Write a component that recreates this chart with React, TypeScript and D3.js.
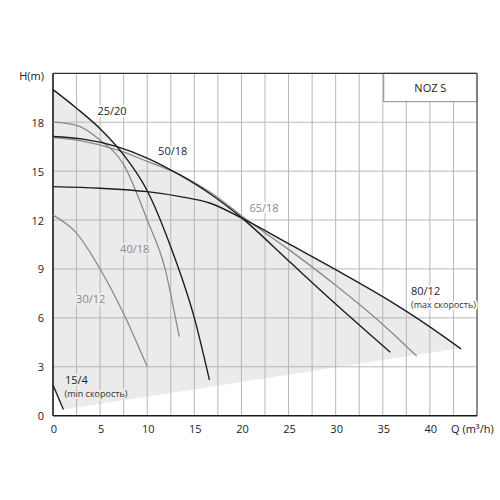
import React from "react";
import * as d3 from "d3";

// Axis ticks
const xTicks = [0, 5, 10, 15, 20, 25, 30, 35, 40];
const yTicks = [0, 3, 6, 9, 12, 15, 18];
const xGrid = [2.5, 5, 7.5, 10, 12.5, 15, 17.5, 20, 22.5, 25, 27.5, 30, 32.5, 35, 37.5, 40, 42.5];
const yGrid = [3, 6, 9, 12, 15, 18];

// Pump curves: flow Q (m3/h) and head H (m)
const q2520 = [0, 2.5, 5, 7.5, 10, 12.5, 15, 16.6];
const h2520 = [20.0, 18.86, 17.6, 16.0, 13.8, 10.35, 6.0, 2.2];

const q4018 = [0, 2.5, 5, 7.5, 10, 11.9, 13, 13.4];
const h4018 = [18.0, 17.8, 16.9, 15.4, 12.0, 9.0, 6.0, 4.85];

const q3012 = [0, 2.5, 5, 7.5, 10];
const h3012 = [12.3, 11.2, 9.0, 6.25, 3.0];

const q5018 = [0, 3.2, 6.8, 10, 13.5, 16.7, 20.1, 25, 30, 35.8];
const h5018 = [17.12, 16.96, 16.5, 15.8, 14.75, 13.6, 12.1, 9.5, 6.85, 3.89];

const q6518 = [0, 3, 6.8, 10, 13.5, 16.7, 20.6, 25, 30, 35, 38.6];
const h6518 = [17.05, 16.85, 16.3, 15.6, 14.78, 13.7, 12.0, 10.2, 8.0, 5.6, 3.66];

const q8012 = [0, 5, 10, 13.5, 16.7, 20.1, 25, 30, 35, 40, 43.3];
const h8012 = [14.05, 13.95, 13.74, 13.44, 13.03, 12.1, 10.55, 8.96, 7.3, 5.45, 4.1];

const q154 = [0, 1.1];
const h154 = [1.88, 0.38];

// Lower limit of the working range (shaded region)
const qLow = [0, 1.1, 43.3, 43.3, 0];
const hLow = [1.88, 0.38, 4.15, 0, 0];

const BLACK = "#1e1e1e";
const GRAY = "#8a8a8a";
const SHADE = "#ebebeb";

const curves = [
  { name: "30/12", q: q3012, h: h3012, color: GRAY },
  { name: "40/18", q: q4018, h: h4018, color: GRAY },
  { name: "65/18", q: q6518, h: h6518, color: GRAY },
  { name: "25/20", q: q2520, h: h2520, color: BLACK },
  { name: "50/18", q: q5018, h: h5018, color: BLACK },
  { name: "80/12", q: q8012, h: h8012, color: BLACK },
  { name: "15/4", q: q154, h: h154, color: BLACK },
];

const FONT = "'Open Sans', 'Noto Sans', sans-serif";

export default function App() {
  const x = d3.scaleLinear().domain([0, 45]).range([53, 477]);
  const y = d3.scaleLinear().domain([0, 21]).range([415.7, 73.3]);

  const pts = (q: number[], h: number[]) => q.map((v, i) => [v, h[i]] as [number, number]);

  const line = d3
    .line<[number, number]>()
    .x((d) => x(d[0]))
    .y((d) => y(d[1]))
    .curve(d3.curveMonotoneX);

  const area = d3
    .area<[number, number]>()
    .x((d) => x(d[0]))
    .y0(y(0))
    .y1((d) => y(d[1]))
    .curve(d3.curveMonotoneX);

  const poly = d3
    .line<[number, number]>()
    .x((d) => x(d[0]))
    .y((d) => y(d[1]));

  const boxQ = 35.1;
  const boxH = 19.26;

  const label = (
    txt: string,
    px: number,
    py: number,
    color: string,
    halo: string,
    size = 11,
    anchor: "start" | "middle" | "end" = "middle"
  ) => (
    <text
      x={px}
      y={py}
      fill={color}
      fontSize={size}
      fontFamily={FONT}
      textAnchor={anchor}
      dominantBaseline="central"
      stroke={halo}
      strokeWidth={4}
      strokeLinejoin="round"
      style={{ paintOrder: "stroke" }}
    >
      {txt}
    </text>
  );

  return (
    <svg
      width={500}
      height={500}
      style={{ position: "absolute", left: 0, top: 0, background: "#fff" }}
    >
      {/* shaded operating range */}
      <g>
        {curves.map((c) => (
          <path key={"a" + c.name} d={area(pts(c.q, c.h)) || ""} fill={SHADE} />
        ))}
        <path d={(poly(pts(qLow, hLow)) || "") + "Z"} fill="#fff" />
      </g>

      {/* grid */}
      <g stroke="#b0b0b0" strokeWidth={0.9}>
        {xGrid.map((v) => (
          <line key={"gx" + v} x1={x(v)} x2={x(v)} y1={y(0)} y2={y(21)} />
        ))}
        {yGrid.map((v) => (
          <line key={"gy" + v} x1={x(0)} x2={x(45)} y1={y(v)} y2={y(v)} />
        ))}
      </g>

      {/* NOZ S box */}
      <rect
        x={x(boxQ)}
        y={y(21)}
        width={x(45) - x(boxQ)}
        height={y(boxH) - y(21)}
        fill="#fff"
        stroke="#8a8a8a"
        strokeWidth={1}
      />
      <text
        x={(x(boxQ) + x(45)) / 2}
        y={(y(21) + y(boxH)) / 2}
        fontSize={11}
        fontFamily={FONT}
        fill="#222"
        textAnchor="middle"
        dominantBaseline="central"
      >
        NOZ S
      </text>

      {/* frame */}
      <line x1={x(0)} x2={x(45)} y1={y(21)} y2={y(21)} stroke="#333" strokeWidth={1.3} />
      <line x1={x(45)} x2={x(45)} y1={y(21)} y2={y(0)} stroke="#666" strokeWidth={1.5} />
      <line x1={x(0)} x2={x(0)} y1={y(21)} y2={y(0)} stroke="#1a1a1a" strokeWidth={1.6} />
      <line x1={x(0)} x2={x(45)} y1={y(0)} y2={y(0)} stroke="#1a1a1a" strokeWidth={1.6} />

      {/* curves */}
      <g fill="none">
        {curves.map((c) => (
          <path
            key={"l" + c.name}
            d={line(pts(c.q, c.h)) || ""}
            stroke={c.color}
            strokeWidth={c.color === BLACK ? 1.4 : 1.3}
          />
        ))}
      </g>

      {/* axis labels */}
      <g fontFamily={FONT} fontSize={11} fill="#222">
        {yTicks.map((v) => (
          <text key={"yt" + v} x={44} y={y(v)} textAnchor="end" dominantBaseline="central">
            {v}
          </text>
        ))}
        {xTicks.map((v) => (
          <text key={"xt" + v} x={x(v) + 1} y={428.5} textAnchor="middle" dominantBaseline="central">
            {v}
          </text>
        ))}
        <text x={44} y={75.5} textAnchor="end" dominantBaseline="central">
          H(m)
        </text>
        <text x={451} y={428.5} textAnchor="start" dominantBaseline="central">
          Q (m³/h)
        </text>
      </g>

      {/* curve labels */}
      {label("25/20", 112, 110, BLACK, "#fff")}
      {label("50/18", 172.7, 150, BLACK, "#fff")}
      {label("65/18", 264, 207, GRAY, "#fff")}
      {label("40/18", 134.7, 248, GRAY, SHADE)}
      {label("30/12", 90.7, 298, GRAY, SHADE)}
      {label("15/4", 65, 379.5, BLACK, SHADE, 11, "start")}
      {label("(min скорость)", 64.5, 393, "#333", SHADE, 9, "start")}
      {label("80/12", 411, 290.5, BLACK, "#fff", 11, "start")}
      {label("(max скорость)", 411, 304, "#333", "#fff", 9, "start")}
    </svg>
  );
}
